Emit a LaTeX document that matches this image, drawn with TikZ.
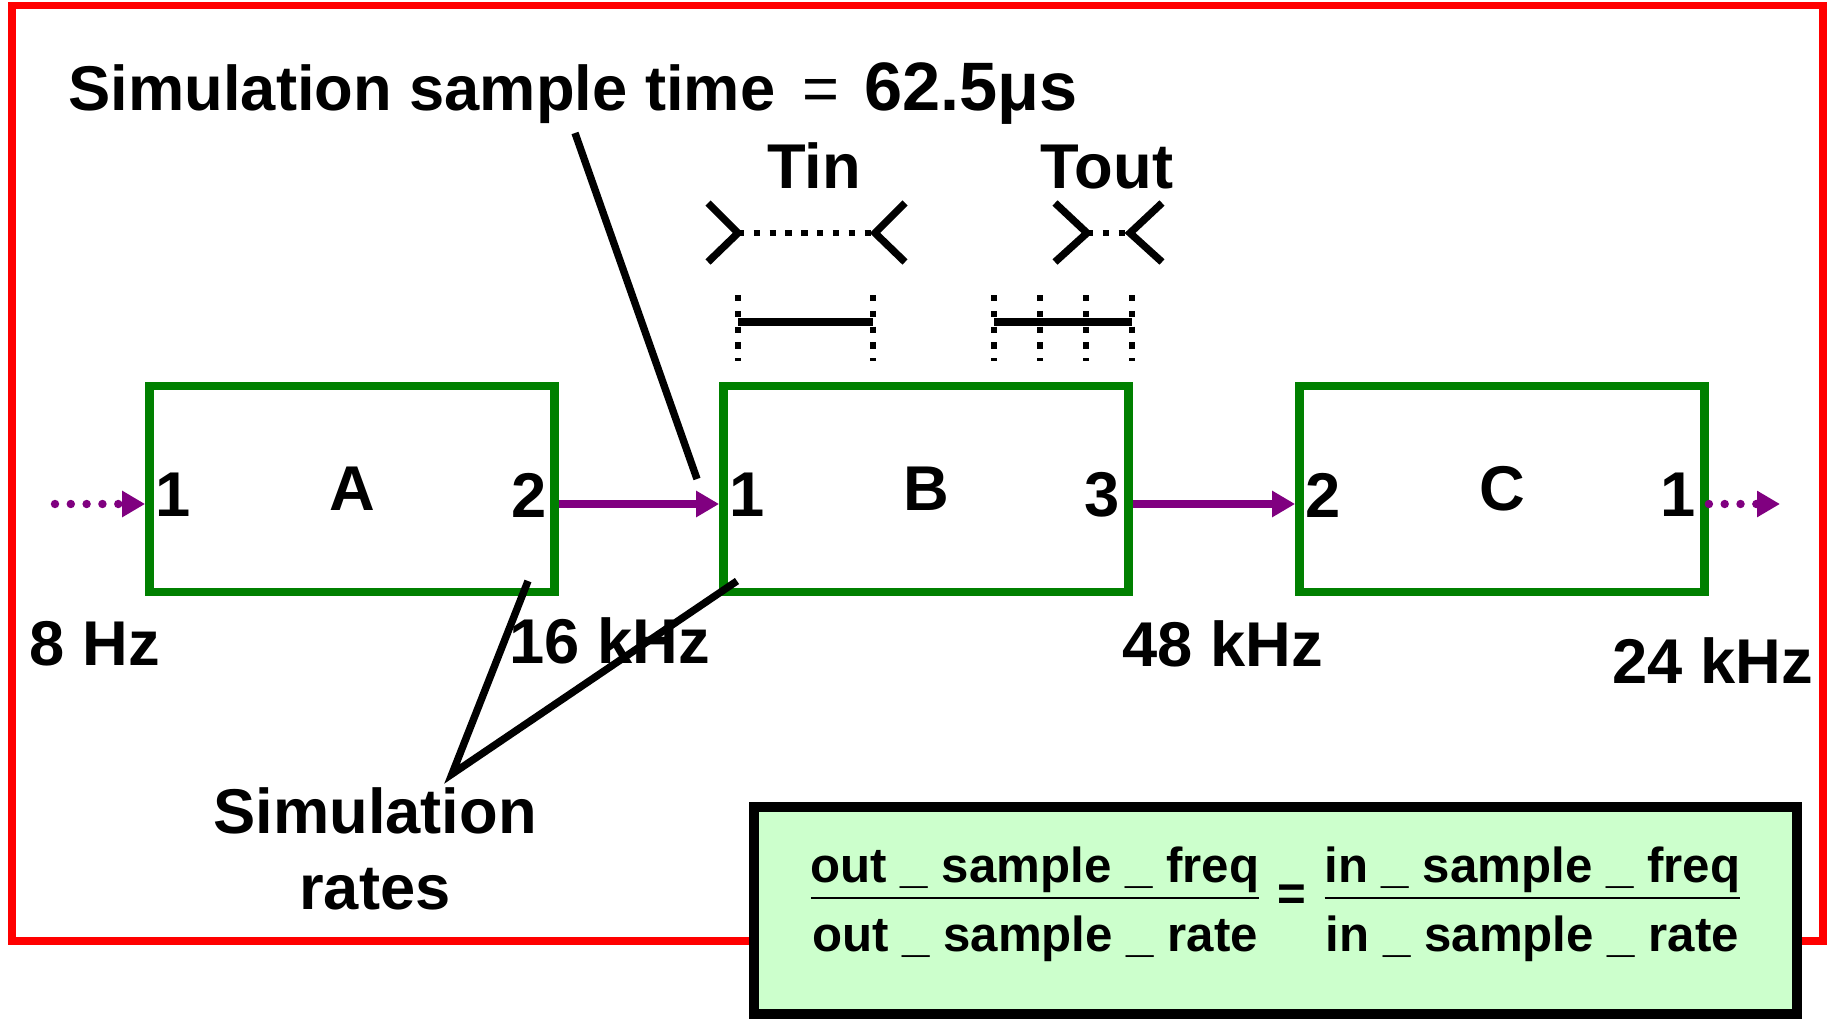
\documentclass[tikz,border=0pt]{standalone}
\usepackage{amsmath}
\usepackage{fontspec}
\setmainfont{Liberation Sans}
\usetikzlibrary{arrows.meta,calc}
\definecolor{simgreen}{RGB}{0,128,0}
\definecolor{flowpurple}{RGB}{128,0,128}
\definecolor{eqfill}{RGB}{204,255,204}
\tikzset{
  blockbox/.style={draw=simgreen, line width=2.5pt, minimum width=4.05cm, minimum height=2.06cm, font=\bfseries\fontsize{18}{21.6}\selectfont},
  portlbl/.style={inner sep=0pt, font=\bfseries\fontsize{18}{21.6}\selectfont},
  bigtext/.style={inner sep=0pt, font=\bfseries\fontsize{18}{21.6}\selectfont},
  flow/.style={-{Triangle[length=2.3mm, width=2.5mm]}, draw=flowpurple, line width=2.1pt},
  flowdot/.style={flow, line cap=round, dash pattern=on 0pt off 4.5pt, line width=2.4pt},
  callout/.style={line width=2.1pt},
  tmark/.style={line width=2.1pt},
  tdots/.style={line width=1.8pt, dash pattern=on 1.8pt off 2.7pt},
  redframe/.style={draw=red, line width=2.2pt},
  eqbox/.style={draw, line width=2.8pt, fill=eqfill, minimum width=10.43cm, minimum height=2.07cm},
  eqtext/.style={inner sep=0pt, font=\bfseries\fontsize{14}{17}\selectfont},
}

\begin{document}
\begin{tikzpicture}[>=Latex]
  \useasboundingbox (0,0) rectangle (18.27,10.21);
  \draw[redframe] (0.12,0.80) rectangle (18.23,10.155);

  % blocks
  \node[blockbox] (A) at (3.52,5.32)  {A};
  \node[blockbox] (B) at (9.26,5.32)  {B};
  \node[blockbox] (C) at (15.02,5.32) {C};

  \node[portlbl] (A1) at ([shift={(0.28,-0.06)}]A.west)  {1};
  \node[portlbl] (A2) at ([shift={(-0.30,-0.06)}]A.east) {2};
  \node[portlbl] (B1) at ([shift={(0.28,-0.06)}]B.west)  {1};
  \node[portlbl] (B3) at ([shift={(-0.31,-0.06)}]B.east) {3};
  \node[portlbl] (C2) at ([shift={(0.28,-0.06)}]C.west)  {2};
  \node[portlbl] (C1) at ([shift={(-0.31,-0.06)}]C.east) {1};

  \coordinate (src) at (0.55,5.17);
  \coordinate (snk) at (17.80,5.17);
  \draw[flowdot] (src) -- ([yshift=-0.15cm]A.west);
  \draw[flow] ([yshift=-0.15cm]A.east) -- ([yshift=-0.15cm]B.west);
  \draw[flow] ([yshift=-0.15cm]B.east) -- ([yshift=-0.15cm]C.west);
  \draw[flowdot] ([yshift=-0.15cm]C.east) -- (snk);

  % rates
  \node[bigtext] (r8)  at (0.95,3.77)  {8 Hz};
  \node[bigtext] (r16) at (6.10,3.80)  {16 kHz};
  \node[bigtext] (r48) at (12.23,3.77) {48 kHz};
  \node[bigtext] (r24) at (17.13,3.60) {24 kHz};

  % sample time
  \node[bigtext, anchor=base west] (title) at (0.68,9.10)
    {Simulation sample time\hspace{0.27cm}{\mdseries =}\hspace{0.25cm}{\fontsize{19.5}{22}\selectfont 62.5μs}};
  \coordinate (tcall) at (5.75,8.88);
  \coordinate (bcall) at (6.97,5.42);
  \draw[callout] (tcall) -- (bcall);

  \node[bigtext, anchor=base] (tin)  at (8.14,8.32)  {Tin};
  \node[bigtext, anchor=base] (tout) at (11.07,8.32) {Tout};

  \draw[tmark] (7.08,8.18) -- (7.38,7.88) -- (7.08,7.59);
  \draw[tmark] (9.05,8.18) -- (8.75,7.88) -- (9.05,7.59);
  \draw[tdots] (7.38,7.88) -- (8.75,7.88);
  \draw[tmark] (10.55,8.18) -- (10.87,7.88) -- (10.55,7.59);
  \draw[tmark] (11.62,8.18) -- (11.30,7.88) -- (11.62,7.59);
  \draw[tdots] (10.87,7.88) -- (11.30,7.88);

  \foreach \x in {7.38,8.73,9.94,10.40,10.86,11.32}
    \draw[tdots] (\x,7.26) -- (\x,6.60);
  \draw[tmark] (7.38,6.99) -- (8.73,6.99);
  \draw[tmark] (9.94,6.99) -- (11.32,6.99);

  % simulation rates
  \node[bigtext, align=center] (rates) at (3.75,1.72) {Simulation\\rates};
  \coordinate (rtip) at (4.52,2.47);
  \coordinate (ra) at (5.28,4.40);
  \coordinate (rb) at (7.37,4.40);
  \draw[callout] (ra) -- (rtip) -- (rb);

  % relation
  \node[eqbox] (eq) at (12.755,1.105) {};
  \node[eqtext, anchor=base] (rel) at (12.755,1.107)
    {$\dfrac{\raisebox{-1.7pt}[\height][0pt]{out \_ sample \_ freq}}{\rule{0pt}{13.4pt}\text{out \_ sample \_ rate}}
      \mathrel{\text{=}}
      \dfrac{\raisebox{-1.7pt}[\height][0pt]{in \_ sample \_ freq}}{\rule{0pt}{13.4pt}\text{in \_ sample \_ rate}}$};
\end{tikzpicture}
\end{document}
